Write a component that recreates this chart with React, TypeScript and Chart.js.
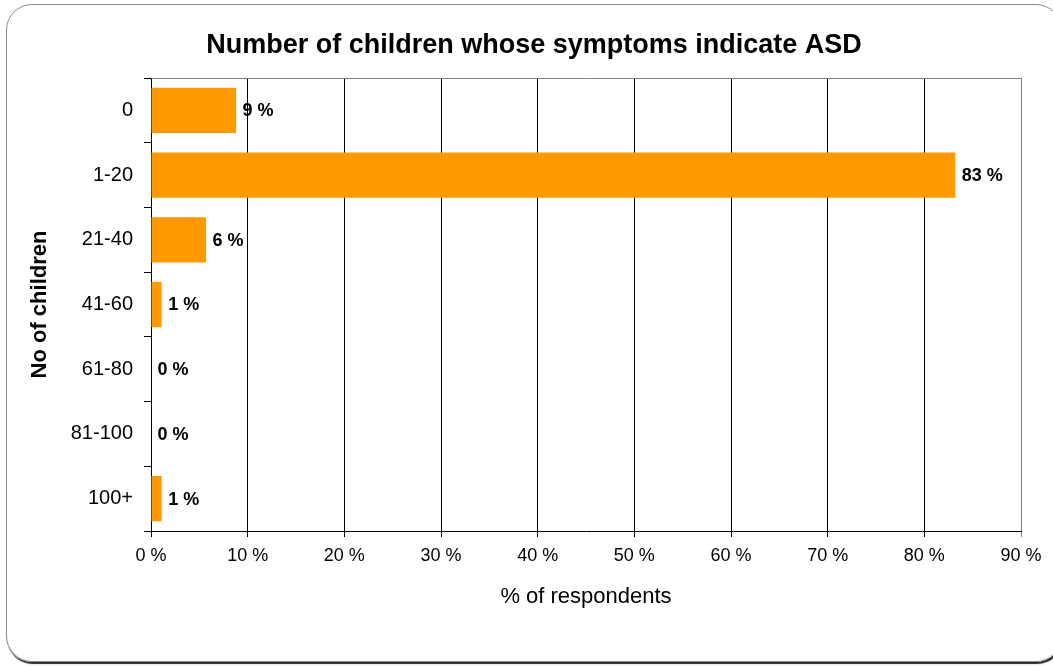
import React, { useEffect, useRef } from 'react';
import { Chart, registerables } from 'chart.js';

Chart.register(...registerables);

const TITLE = 'Number of children whose symptoms indicate ASD';
const X_TITLE = '% of respondents';
const Y_TITLE = 'No of children';

const categories = ['0', '1-20', '21-40', '41-60', '61-80', '81-100', '100+'];
const values = [8.8, 83.2, 5.7, 1.1, 0, 0, 1.1];
const valueLabels = ['9 %', '83 %', '6 %', '1 %', '0 %', '0 %', '1 %'];

const X_MIN = 0;
const X_MAX = 90;
const X_STEP = 10;

const FONT = '"Liberation Sans", Arial, Helvetica, sans-serif';
const BAR_COLOR = '#FF9900';

const titlePlugin = {
  id: 'customTitle',
  afterDraw(chart: any) {
    const ctx = chart.ctx;
    ctx.save();
    ctx.font = `bold 27px ${FONT}`;
    ctx.fillStyle = '#000';
    ctx.textAlign = 'center';
    ctx.textBaseline = 'middle';
    ctx.fillText(TITLE, 534, 46);
    ctx.restore();
  },
};

const frameLinesPlugin = {
  id: 'frameLines',
  afterDraw(chart: any) {
    const { ctx, chartArea } = chart;
    ctx.save();
    ctx.strokeStyle = '#808080';
    ctx.lineWidth = 1;
    ctx.beginPath();
    ctx.moveTo(Math.round(chartArea.left) + 0.5, Math.round(chartArea.top) + 0.5);
    ctx.lineTo(Math.round(chartArea.right) + 0.5, Math.round(chartArea.top) + 0.5);
    ctx.stroke();
    ctx.restore();
  },
};

const valueLabelPlugin = {
  id: 'valueLabels',
  afterDatasetsDraw(chart: any) {
    const ctx = chart.ctx;
    const meta = chart.getDatasetMeta(0);
    ctx.save();
    ctx.font = `bold 18px ${FONT}`;
    ctx.fillStyle = '#000';
    ctx.textAlign = 'left';
    ctx.textBaseline = 'middle';
    meta.data.forEach((bar: any, i: number) => {
      ctx.fillText(valueLabels[i], bar.x + 6.5, bar.y + 1);
    });
    ctx.restore();
  },
};

export default function App() {
  const canvasRef = useRef<HTMLCanvasElement | null>(null);

  useEffect(() => {
    if (!canvasRef.current) return;
    const chart = new Chart(canvasRef.current, {
      type: 'bar',
      data: {
        labels: categories,
        datasets: [
          {
            data: values,
            backgroundColor: BAR_COLOR,
            borderWidth: 0,
            barPercentage: 0.7,
            categoryPercentage: 1,
          },
        ],
      },
      options: {
        indexAxis: 'y',
        responsive: false,
        animation: false,
        devicePixelRatio: 1,
        layout: { padding: { top: 78, right: 32, bottom: 0, left: 0 } },
        plugins: {
          legend: { display: false },
          title: { display: false },
          tooltip: { enabled: false },
        },
        scales: {
          x: {
            type: 'linear',
            position: 'bottom',
            min: X_MIN,
            max: X_MAX,
            afterFit(scale: any) {
              scale.height = 135;
            },
            ticks: {
              stepSize: X_STEP,
              color: '#000',
              font: { family: FONT, size: 18 },
              padding: 8,
              callback: (v: any) => `${v} %`,
            },
            grid: {
              color: (c: any) => (c.tick && c.tick.value === X_MAX ? '#808080' : '#000'),
              lineWidth: 1,
              tickLength: 6,
              drawTicks: true,
            },
            border: { display: true, color: '#000', width: 1 },
            title: {
              display: true,
              text: X_TITLE,
              color: '#000',
              font: { family: FONT, size: 22 },
              padding: { top: 0, bottom: 56 },
            },
          },
          y: {
            type: 'category',
            position: 'left',
            afterFit(scale: any) {
              scale.width = 151;
            },
            ticks: {
              color: '#000',
              font: { family: FONT, size: 20 },
              padding: 11,
            },
            grid: {
              display: true,
              drawOnChartArea: false,
              offset: true,
              color: '#000',
              tickLength: 7,
            },
            border: { display: true, color: '#000', width: 1 },
            title: {
              display: true,
              text: Y_TITLE,
              color: '#000',
              font: { family: FONT, size: 22, weight: 'bold' },
              padding: { top: 27, bottom: 0 },
            },
          },
        },
      },
      plugins: [titlePlugin, frameLinesPlugin, valueLabelPlugin],
    } as any);
    return () => chart.destroy();
  }, []);

  return (
    <div style={{ position: 'absolute', left: 0, top: 0, width: 1053, height: 666, overflow: 'hidden', background: '#fff' }}>
      <div
        style={{
          position: 'absolute',
          left: 6,
          top: 4,
          width: 1056,
          height: 658,
          border: '1px solid #8a8a8a',
          borderRadius: 26,
          boxShadow: '1px 2px 1px rgba(0,0,0,0.85)',
          boxSizing: 'border-box',
        }}
      />
      <canvas
        ref={canvasRef}
        width={1053}
        height={666}
        style={{ position: 'absolute', left: 0, top: 0, width: 1053, height: 666 }}
      />
    </div>
  );
}
